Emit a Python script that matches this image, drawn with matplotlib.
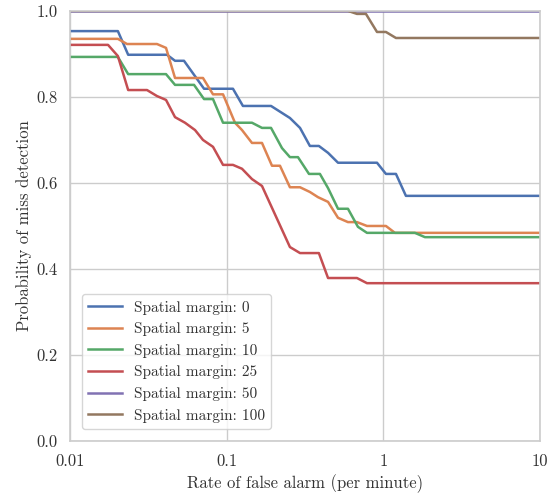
import numpy as np
import matplotlib
matplotlib.use('Agg')
import matplotlib.pyplot as plt

# Dane (x: alarmy na minutę, y: prawdopodobieństwo)
x_m0 = [0.01, 0.0202, 0.0235, 0.0416, 0.0468, 0.0534, 0.0717, 0.1097, 0.127, 0.192,
        0.2535, 0.294, 0.340, 0.388, 0.444, 0.514, 0.912, 1.04, 1.205, 1.395, 10]
y_m0 = [0.953, 0.953, 0.898, 0.898, 0.884, 0.884, 0.819, 0.819, 0.779, 0.779,
        0.751, 0.728, 0.686, 0.686, 0.670, 0.647, 0.647, 0.621, 0.621, 0.570, 0.570]

x_m5 = [0.01, 0.0202, 0.0231, 0.0359, 0.0410, 0.0468, 0.0706, 0.0818, 0.0948, 0.1130,
        0.1253, 0.1451, 0.1681, 0.1947, 0.2190, 0.2535, 0.294, 0.340, 0.3828, 0.444,
        0.514, 0.595, 0.679, 0.787, 1.04, 1.187, 10]
y_m5 = [0.935, 0.935, 0.923, 0.923, 0.914, 0.844, 0.844, 0.806, 0.806, 0.740,
        0.723, 0.693, 0.693, 0.640, 0.640, 0.590, 0.590, 0.579, 0.567, 0.556,
        0.519, 0.509, 0.509, 0.500, 0.500, 0.484, 0.484]

x_m10 = [0.01, 0.0202, 0.0235, 0.0410, 0.0468, 0.0619, 0.0717, 0.0818, 0.0948, 0.1451,
         0.1681, 0.192, 0.2256, 0.2535, 0.2853, 0.3354, 0.394, 0.444, 0.514, 0.595,
         0.689, 0.787, 1.592, 1.845, 10]
y_m10 = [0.893, 0.893, 0.853, 0.853, 0.828, 0.828, 0.795, 0.795, 0.740, 0.740,
         0.728, 0.728, 0.681, 0.660, 0.660, 0.621, 0.621, 0.588, 0.540, 0.540,
         0.498, 0.484, 0.484, 0.474, 0.474]

x_m25 = [0.01, 0.01748, 0.0202, 0.0235, 0.0310, 0.0359, 0.0410, 0.0468, 0.0542, 0.0628,
         0.0706, 0.0818, 0.0948, 0.1097, 0.1253, 0.1451, 0.1681, 0.2535, 0.294, 0.388,
         0.444, 0.679, 0.787, 10]
y_m25 = [0.921, 0.921, 0.895, 0.816, 0.816, 0.802, 0.793, 0.753, 0.740, 0.723,
         0.700, 0.684, 0.642, 0.642, 0.633, 0.609, 0.593, 0.451, 0.437, 0.437,
         0.379, 0.379, 0.367, 0.367]

x_m50 = [0.01, 10]
y_m50 = [1.0, 1.0]

x_m100 = [0.01, 0.595, 0.679, 0.775, 0.912, 1.04, 1.205, 10]
y_m100 = [1.0, 1.0, 0.993, 0.993, 0.951, 0.951, 0.937, 0.937]

labels = ['Spatial margin: 0', 'Spatial margin: 5', 'Spatial margin: 10',
          'Spatial margin: 25', 'Spatial margin: 50', 'Spatial margin: 100']
colors = ['#4C72B0', '#DD8452', '#55A868', '#C44E52', '#8172B3', '#937860']

plt.rcParams['font.family'] = 'serif'
plt.rcParams['font.serif'] = ['cmr10', 'DejaVu Serif']
plt.rcParams['axes.formatter.use_mathtext'] = True

fig = plt.figure(figsize=(5.56, 4.95), dpi=100)
ax = fig.add_axes([0.126, 0.109, 0.845, 0.869])

series = [(x_m0, y_m0), (x_m5, y_m5), (x_m10, y_m10),
          (x_m25, y_m25), (x_m50, y_m50), (x_m100, y_m100)]
for (xs, ys), lab, col in zip(series, labels, colors):
    ax.plot(xs, ys, color=col, lw=1.8, label=lab)

ax.set_xscale('log')
ax.set_xlim(0.01, 10)
ax.set_ylim(0, 1)
ax.set_xticks([0.01, 0.1, 1, 10])
ax.set_xticklabels(['0.01', '0.1', '1', '10'])
ax.minorticks_off()
ax.set_yticks(np.arange(0, 1.01, 0.2))
ax.set_yticklabels(['0.0', '0.2', '0.4', '0.6', '0.8', '1.0'])
ax.tick_params(length=0, labelsize=12, labelcolor='#333333')
ax.tick_params(axis='x', pad=9)
ax.tick_params(axis='y', pad=9)

ax.grid(True, color='#cccccc', lw=1)
ax.set_axisbelow(True)
for s in ax.spines.values():
    s.set_color('#cccccc')
    s.set_linewidth(1.2)

ax.set_xlabel('Rate of false alarm (per minute)', fontsize=12, color='#333333', labelpad=4)
ax.set_ylabel('Probability of miss detection', fontsize=12, color='#333333', labelpad=3)

leg = ax.legend(loc='lower left', fontsize=11, frameon=True, borderaxespad=0.8,
                handlelength=2.2)
leg.get_frame().set_edgecolor('#cccccc')
for t in leg.get_texts():
    t.set_color('#333333')

plt.savefig('out.png', dpi=100)
